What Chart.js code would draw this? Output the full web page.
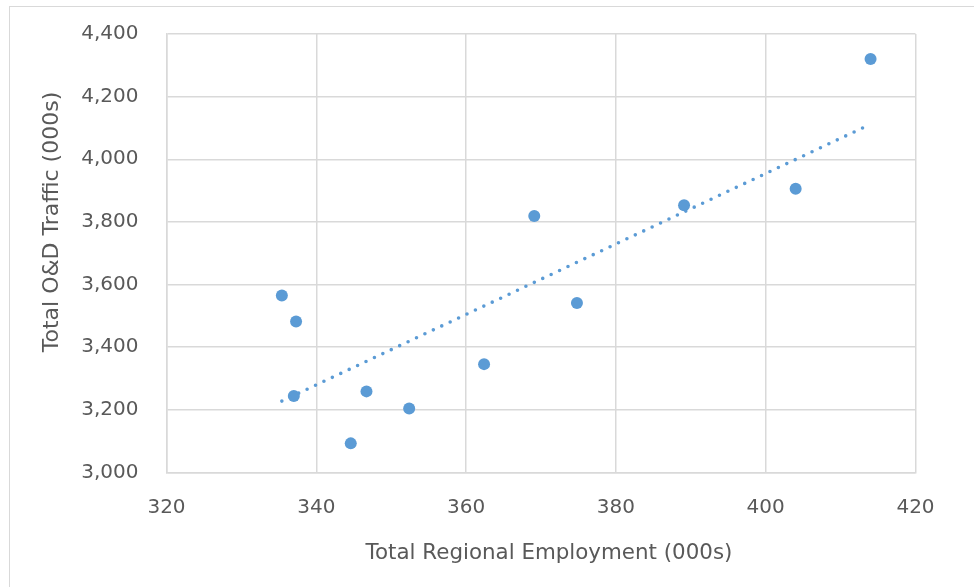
<!DOCTYPE html>
<html>
<head>
<meta charset="utf-8">
<script src="https://cdn.jsdelivr.net/npm/chart.js@4.4.1/dist/chart.umd.min.js"></script>
<style>
  html, body { margin: 0; padding: 0; background: #ffffff; }
  #wrap { position: relative; width: 974px; height: 587px; overflow: hidden; }
  #frame { position: absolute; left: 9px; top: 6px; width: 1000px; height: 640px;
           border: 1px solid #d9d9d9; box-sizing: border-box; pointer-events: none; }
  canvas { position: absolute; left: 0; top: 0; }
</style>
</head>
<body>
<div id="wrap">
  <canvas id="chart" width="974" height="587"></canvas>
  <div id="frame"></div>
</div>
<script>
// Regional employment vs. O&D traffic, both in thousands
const employment = [335.4, 337.3, 337.0, 344.6, 346.7, 352.4, 362.4, 369.1, 374.8, 389.1, 404.0, 414.0];
const traffic    = [3565, 3482, 3244, 3093, 3259, 3204, 3346, 3819, 3541, 3853, 3906, 4320];

// Linear trend line end points
const trendEmployment = [335.4, 414.0];
const trendTraffic    = [3228, 4112];

// Axis ranges and titles
const xTicks = [320, 340, 360, 380, 400, 420];
const yTicks = [3000, 3200, 3400, 3600, 3800, 4000, 4200, 4400];
const xTitle = 'Total Regional Employment (000s)';
const yTitle = 'Total O&D Traffic (000s)';

const blue = '#5b9bd5';
const grey = '#595959';
const gridGrey = '#d9d9d9';
const fontFamily = '"DejaVu Sans", "Liberation Sans", sans-serif';

const points = employment.map((x, i) => ({ x: x, y: traffic[i] }));
const trend = trendEmployment.map((x, i) => ({ x: x, y: trendTraffic[i] }));

// Axis titles drawn at fixed spots relative to the canvas
const axisTitles = {
  id: 'axisTitles',
  afterDraw(chart) {
    const ctx = chart.ctx;
    ctx.save();
    ctx.fillStyle = grey;
    ctx.textAlign = 'center';
    ctx.textBaseline = 'middle';
    ctx.font = '21.4px ' + fontFamily;
    ctx.fillText(xTitle, 549, 553);
    ctx.font = '22px ' + fontFamily;
    ctx.translate(52, 222);
    ctx.rotate(-Math.PI / 2);
    ctx.fillText(yTitle, 0, 0);
    ctx.restore();
  }
};

new Chart(document.getElementById('chart'), {
  type: 'scatter',
  data: {
    datasets: [
      {
        type: 'line',
        label: 'Trend',
        data: trend,
        order: 0,
        borderColor: blue,
        borderWidth: 3.6,
        borderDash: [0, 9.3],
        borderCapStyle: 'round',
        pointRadius: 0,
        fill: false,
        tension: 0
      },
      {
        label: 'Traffic',
        data: points,
        order: 1,
        backgroundColor: blue,
        borderColor: blue,
        borderWidth: 0,
        pointRadius: 6,
        pointHoverRadius: 6
      }
    ]
  },
  options: {
    responsive: false,
    animation: false,
    devicePixelRatio: 1,
    layout: { padding: { left: 0, top: 34, right: 58.5, bottom: 0 } },
    plugins: { legend: { display: false }, tooltip: { enabled: false } },
    scales: {
      x: {
        type: 'linear',
        min: xTicks[0],
        max: xTicks[xTicks.length - 1],
        afterBuildTicks(scale) { scale.ticks = xTicks.map(v => ({ value: v })); },
        afterFit(scale) { scale.height = 114.5; },
        grid: { color: gridGrey, lineWidth: 1.5, drawTicks: true, tickLength: 23, tickColor: 'rgba(0,0,0,0)' },
        border: { color: gridGrey, width: 1.5 },
        ticks: {
          color: grey,
          font: { family: fontFamily, size: 20 },
          padding: 0,
          maxRotation: 0,
          callback: v => v.toLocaleString('en-US')
        }
      },
      y: {
        type: 'linear',
        min: yTicks[0],
        max: yTicks[yTicks.length - 1],
        afterBuildTicks(scale) { scale.ticks = yTicks.map(v => ({ value: v })); },
        afterFit(scale) { scale.width = 166.5; },
        grid: { color: gridGrey, lineWidth: 1.5, drawTicks: true, tickLength: 28, tickColor: 'rgba(0,0,0,0)' },
        border: { color: gridGrey, width: 1.5 },
        ticks: {
          color: grey,
          font: { family: fontFamily, size: 20 },
          padding: 0,
          callback: v => v.toLocaleString('en-US')
        }
      }
    }
  },
  plugins: [axisTitles]
});
</script>
</body>
</html>
